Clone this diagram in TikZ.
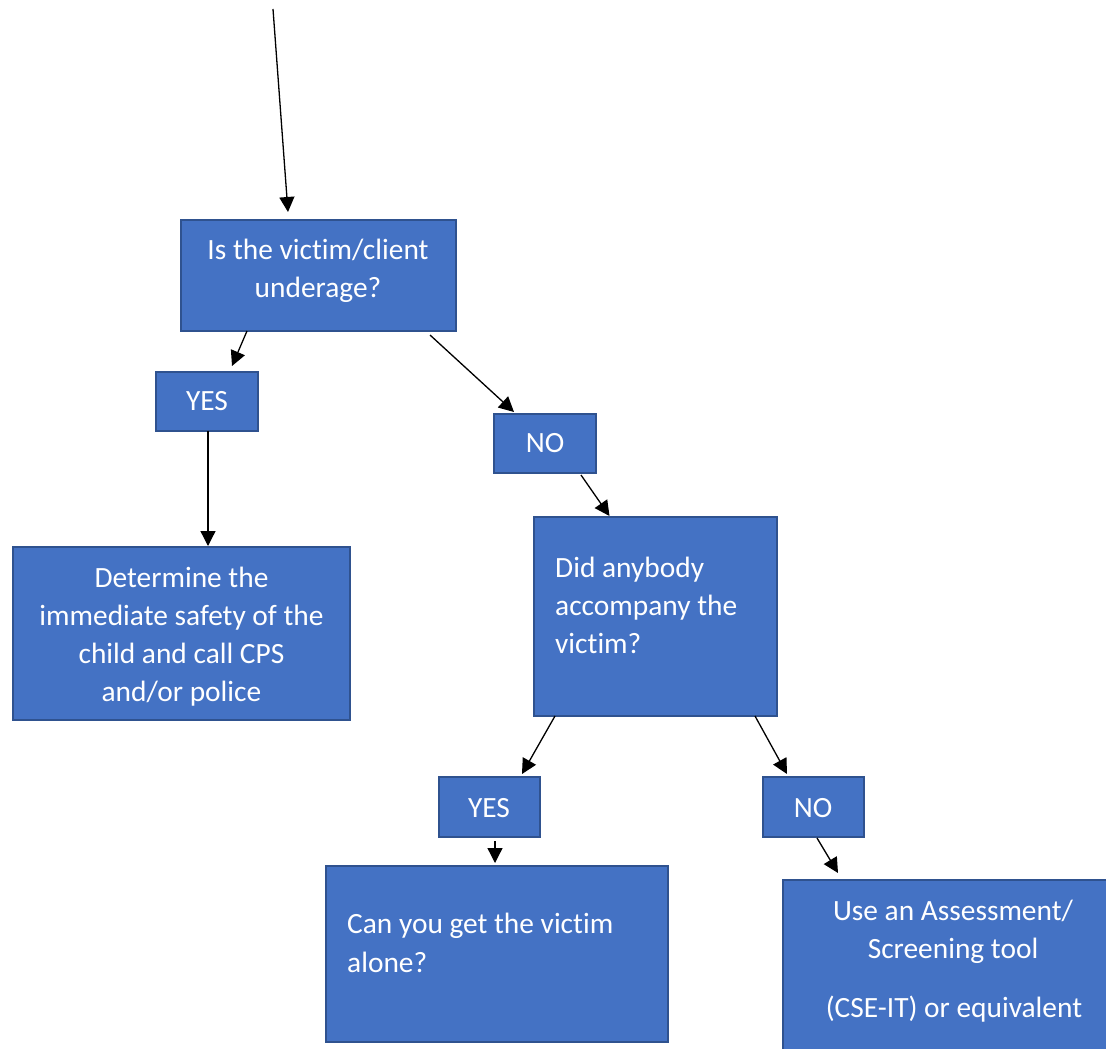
\documentclass[tikz,border=0pt]{standalone}
\usepackage{fontspec}
\setmainfont{Carlito}[Ligatures=NoCommon]
\usetikzlibrary{arrows.meta}
\definecolor{boxfill}{HTML}{4472C4}
\definecolor{boxborder}{HTML}{2F528F}
\begin{document}
\begin{tikzpicture}[x=1pt,y=1pt,
  box/.style={draw=boxborder, fill=boxfill, line width=2pt, rectangle, inner sep=0pt, outer sep=0pt, anchor=north west},
  txt/.style={inner sep=0pt, text=white, font=\fontsize{29.4}{38}\selectfont},
  ctxt/.style={txt, anchor=base},
  ltxt/.style={txt, anchor=base west},
  arr/.style={line width=1.3pt, -{Triangle[length=15pt,width=15pt]}}]
\useasboundingbox (0,0) rectangle (1106,-1049);
\clip (0,0) rectangle (1106,-1049);
\fill[white] (0,0) rectangle (1106,-1049);

% boxes
\node[box, minimum width=275pt, minimum height=111pt] (q1) at (181,-220) {};
\node[box, minimum width=102pt, minimum height=59pt] (yes1) at (156,-372) {};
\node[box, minimum width=102pt, minimum height=59pt] (no1) at (494,-414) {};
\node[box, minimum width=337pt, minimum height=173pt] (det) at (13,-547) {};
\node[box, minimum width=243pt, minimum height=199pt] (q2) at (534,-517) {};
\node[box, minimum width=101pt, minimum height=60pt] (yes2) at (439,-777) {};
\node[box, minimum width=101pt, minimum height=60pt] (no2) at (763,-777) {};
\node[box, minimum width=342pt, minimum height=176pt] (can) at (326,-866) {};
\node[box, minimum width=345pt, minimum height=185pt] (use) at (783,-880) {};

% texts
\node[ctxt] (q1a) at (318,-259) {Is the victim/client};
\node[ctxt] (q1b) at (318,-297) {underage?};
\node[ctxt] (yes1t) at (207,-410) {YES};
\node[ctxt] (no1t) at (545,-452) {NO};
\node[ctxt] (deta) at (181.5,-587) {Determine the};
\node[ctxt] (detb) at (181.5,-625) {immediate safety of the};
\node[ctxt] (detc) at (181.5,-663) {child and call CPS};
\node[ctxt] (detd) at (181.5,-701) {and/or police};
\node[ltxt] (q2a) at (555,-577) {Did anybody};
\node[ltxt] (q2b) at (555,-615) {accompany the};
\node[ltxt] (q2c) at (555,-653) {victim?};
\node[ctxt] (yes2t) at (489,-817) {YES};
\node[ctxt] (no2t) at (813,-817) {NO};
\node[ltxt] (cana) at (347,-933) {Can you get the victim};
\node[ltxt] (canb) at (347,-972) {alone?};
\node[ctxt] (usea) at (953,-920) {Use an Assessment/};
\node[ctxt] (useb) at (953,-958) {Screening tool};
\node[ctxt] (usec) at (954,-1017) {(CSE-IT) or equivalent};

% connectors
\coordinate (start) at (273,-9);
\draw[arr] (start) -- ([xshift=-30.5pt,yshift=8pt]q1.north);
\draw[arr] ([xshift=-71.5pt]q1.south) -- ([xshift=25pt,yshift=6pt]yes1.north);
\draw[arr] ([xshift=-26pt,yshift=-4pt]q1.south east) -- ([xshift=-31pt,yshift=2pt]no1.north);
\draw[arr] ([xshift=1pt]yes1.south) -- ([xshift=26.5pt,yshift=1pt]det.north);
\draw[arr] ([xshift=36pt,yshift=-2pt]no1.south) -- ([xshift=-46pt,yshift=1pt]q2.north);
\draw[arr] ([xshift=-100.5pt]q2.south) -- ([xshift=32.5pt,yshift=3pt]yes2.north);
\draw[arr] ([xshift=99.5pt]q2.south) -- ([xshift=-26.5pt,yshift=3pt]no2.north);
\draw[arr] ([xshift=5.5pt,yshift=-4pt]yes2.south) -- ([xshift=-2pt,yshift=3pt]can.north);
\draw[arr] ([xshift=3.5pt,yshift=-1pt]no2.south) -- ([xshift=55pt,yshift=7pt]use.north west);
\end{tikzpicture}
\end{document}
